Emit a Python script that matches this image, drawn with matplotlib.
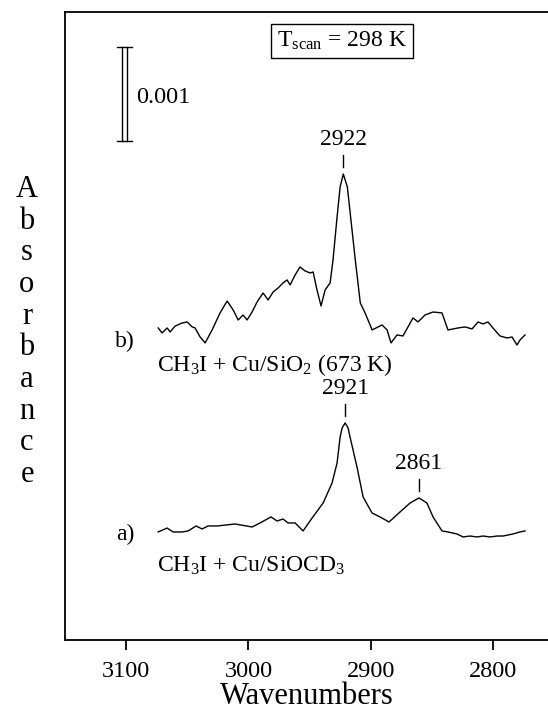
import numpy as np
import matplotlib
matplotlib.use("Agg")
import matplotlib.pyplot as plt

plt.rcParams['font.family'] = 'Liberation Serif'
plt.rcParams['mathtext.fontset'] = 'custom'
plt.rcParams['mathtext.rm'] = 'Liberation Serif'
plt.rcParams['mathtext.default'] = 'regular'

# spectrum a) CH3I + Cu/SiOCD3  (absorbance in units of 0.001)
wn_a = [3073.8, 3066.5, 3061.6, 3054.2, 3049.3, 3042.8, 3037.9, 3033.0, 3025.6, 3010.9,
        2997.0, 2990.5, 2981.5, 2976.6, 2971.7, 2967.6, 2961.8, 2955.3, 2947.9, 2938.9,
        2931.6, 2927.5, 2925.0, 2923.4, 2920.9, 2918.5, 2916.9, 2911.2, 2906.2, 2898.9,
        2892.4, 2885.0, 2876.0, 2867.8, 2860.5, 2854.0, 2849.0, 2841.7, 2836.8, 2829.4,
        2824.5, 2818.8, 2813.1, 2808.1, 2802.4, 2796.7, 2791.8, 2783.6, 2777.9, 2773.8]
abs_a = [1.149, 1.191, 1.149, 1.149, 1.160, 1.213, 1.181, 1.213, 1.213, 1.234,
         1.202, 1.245, 1.309, 1.266, 1.287, 1.245, 1.245, 1.160, 1.298, 1.457,
         1.670, 1.883, 2.160, 2.255, 2.309, 2.255, 2.160, 1.840, 1.521, 1.351,
         1.309, 1.255, 1.362, 1.457, 1.511, 1.457, 1.309, 1.160, 1.149, 1.128,
         1.096, 1.106, 1.096, 1.106, 1.096, 1.106, 1.106, 1.128, 1.149, 1.160]

# spectrum b) CH3I + Cu/SiO2 (673 K)
wn_b = [3073.8, 3070.6, 3066.5, 3064.0, 3059.9, 3054.2, 3050.1, 3046.0, 3043.6, 3039.5,
        3035.4, 3029.7, 3023.2, 3017.4, 3012.5, 3008.4, 3004.4, 3001.1, 2997.0, 2992.9,
        2988.0, 2983.9, 2979.8, 2975.7, 2971.7, 2968.4, 2965.9, 2961.8, 2957.8, 2953.7,
        2949.6, 2947.1, 2943.9, 2940.6, 2937.3, 2933.2, 2930.8, 2927.5, 2925.0, 2922.4,
        2919.1, 2915.0, 2912.6, 2908.5, 2904.6, 2900.5, 2898.9, 2890.7, 2886.6, 2883.4,
        2878.5, 2873.6, 2865.4, 2861.3, 2855.6, 2849.0, 2841.7, 2836.8, 2828.6, 2822.9,
        2817.1, 2812.2, 2808.1, 2804.1, 2800.0, 2794.3, 2788.5, 2784.4, 2780.4, 2777.9,
        2773.8]
abs_b = [3.319, 3.266, 3.319, 3.277, 3.340, 3.372, 3.383, 3.330, 3.319, 3.223,
         3.160, 3.298, 3.479, 3.606, 3.511, 3.404, 3.457, 3.404, 3.489, 3.596,
         3.691, 3.617, 3.702, 3.745, 3.798, 3.830, 3.777, 3.883, 3.968, 3.926,
         3.904, 3.915, 3.723, 3.553, 3.723, 3.798, 4.043, 4.500, 4.819, 4.957,
         4.819, 4.330, 4.043, 3.585, 3.479, 3.351, 3.298, 3.351, 3.298, 3.160,
         3.245, 3.234, 3.426, 3.383, 3.457, 3.489, 3.479, 3.298, 3.319, 3.330,
         3.309, 3.383, 3.362, 3.383, 3.319, 3.234, 3.213, 3.223, 3.138, 3.191,
         3.245]

# peak labels: (wavenumber, top of peak)
peaks = [(2922.4, 4.957, "2922"), (2920.9, 2.309, "2921"), (2860.5, 1.511, "2861")]
xticks = [3100, 3000, 2900, 2800]

fig = plt.figure(figsize=(5.48, 7.11), dpi=100)
ax = fig.add_axes([65/548, 71/711, 483/548, 628/711])

ax.plot(wn_b, abs_b, color='black', lw=1.0)
ax.plot(wn_a, abs_a, color='black', lw=1.0)

for x, y, lab in peaks:
    ax.plot([x, x], [y + 0.07, y + 0.2], color='black', lw=1.0)
    ax.text(x, y + 0.25, lab, ha='center', va='bottom', fontsize=17)

ax.text(3100.8, 3.18, "b)", ha='center', va='center', fontsize=17)
ax.text(3074.7, 2.86, r"CH$_3$I + Cu/SiO$_2$ (673 K)", ha='left', va='baseline', fontsize=17)
ax.text(3100.8, 1.128, "a)", ha='center', va='center', fontsize=17)
ax.text(3074.7, 0.723, r"CH$_3$I + Cu/SiOCD$_3$", ha='left', va='baseline', fontsize=17)

# scale bar 0.001
y0, y1 = 5.309, 6.309
for xb in (3103.3, 3099.2):
    ax.plot([xb, xb], [y0, y1], color='black', lw=1.0)
for yb in (y0, y1):
    ax.plot([3107.4, 3095.5], [yb, yb], color='black', lw=1.0)
ax.text(3091.8, 5.77, "0.001", ha='left', va='center', fontsize=17.5)

ax.text(2923.4, 6.37, r"T$_{scan}$ = 298 K", ha='center', va='center', fontsize=17,
        bbox=dict(boxstyle='square,pad=0.25', fc='white', ec='black', lw=1.0))

ax.set_xlim(3150, 2755)
ax.set_ylim(0, 6.68)
ax.set_xticks(xticks)
ax.set_yticks([])
ax.tick_params(axis='x', direction='out', length=7, width=1.3, labelsize=17.5, pad=8)
ax.spines['right'].set_visible(False)
for s in ('left', 'bottom', 'top'):
    ax.spines[s].set_linewidth(1.3)
ax.set_xlabel("Wavenumbers", fontsize=22, labelpad=0)

fig.text(27/548, 1 - 332/711, "\n".join("Absorbance"), ha='center', va='center',
         fontsize=22, linespacing=1.12)

fig.savefig("out.png", dpi=100)
